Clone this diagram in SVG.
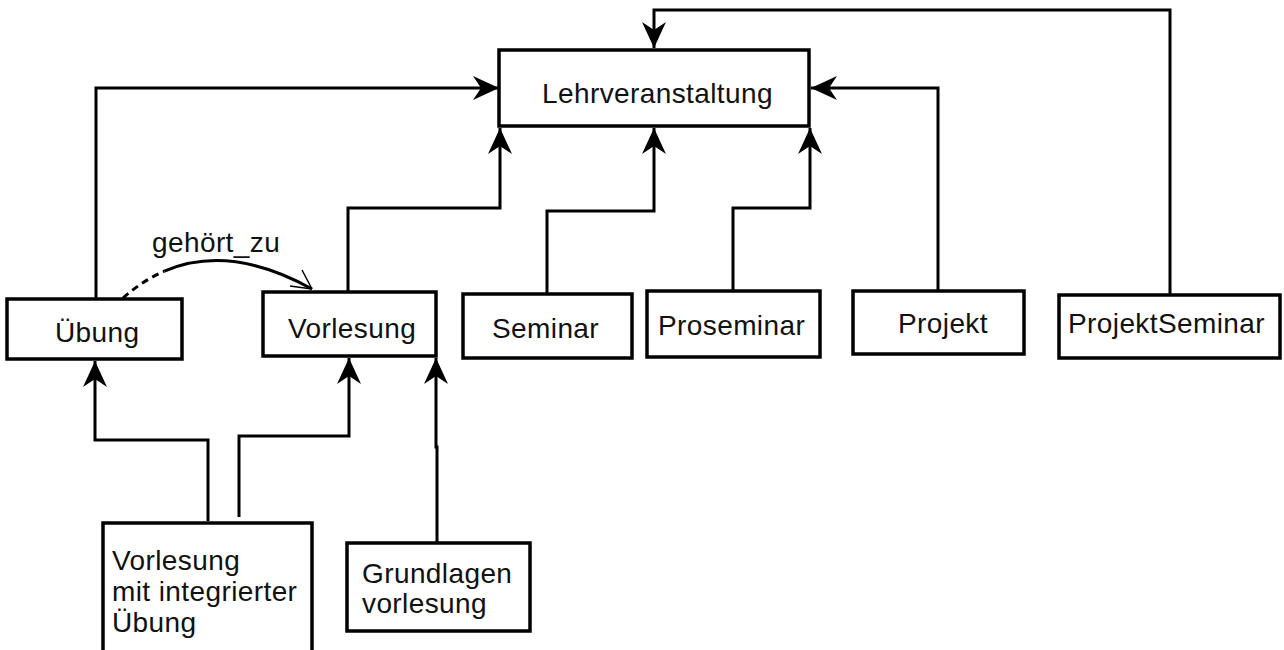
<svg xmlns="http://www.w3.org/2000/svg" width="1284" height="650" viewBox="0 0 1284 650">
<style>
.box{fill:#fff;stroke:#000;stroke-width:3.5}
.lbl{font-family:"Liberation Sans",Arial,sans-serif;font-size:28px;fill:#111;letter-spacing:0.4px}
.con{fill:none;stroke:#000;stroke-width:3;marker-end:url(#arr)}
</style>
<defs>
<marker id="arr" markerUnits="userSpaceOnUse" markerWidth="30" markerHeight="30" viewBox="-27 -14 30 28" refX="0" refY="0" orient="auto">
<path d="M0,0 L-26,-12 L-18,0 L-26,12 Z" fill="#000"/>
</marker>
</defs>
<rect width="1284" height="650" fill="#fff"/>
<g id="connectors">
<path class="con" d="M96,299 V88 H499"/>
<path class="con" d="M348,292 V208 H500 V128"/>
<path class="con" d="M547,294 V211 H654 V128"/>
<path class="con" d="M733,291 V208 H810 V128"/>
<path class="con" d="M938,291 V88 H811"/>
<path class="con" d="M1170,295 V10 H654 V48"/>
<path class="con" d="M208,521 V440 H95 V361"/>
<path class="con" d="M239,517 V436 H349 V358"/>
<path class="con" d="M437,543 V447 L436,447 V358"/>
<g id="gehoert_zu">
<path d="M123,298 Q142.75,280.5 164.4,271.2" fill="none" stroke="#000" stroke-width="3" stroke-dasharray="7,5"/>
<path d="M164.4,271.2 Q229.5,243.25 312,289" fill="none" stroke="#000" stroke-width="3"/>
<path d="M290,286 L312,289 M302,270 L312,289" fill="none" stroke="#000" stroke-width="1.5"/>
<text class="lbl" x="152" y="252">gehört_zu</text>
</g>
</g>
<g id="lehrveranstaltung"><rect class="box" x="499" y="50" width="310" height="76"/><text class="lbl" x="542" y="103">Lehrveranstaltung</text></g>
<g id="uebung"><rect class="box" x="7" y="299" width="175" height="60"/><text class="lbl" x="55" y="342">Übung</text></g>
<g id="vorlesung"><rect class="box" x="263" y="292" width="173" height="64"/><text class="lbl" x="288" y="338">Vorlesung</text></g>
<g id="seminar"><rect class="box" x="463" y="294" width="169" height="64"/><text class="lbl" x="492" y="338">Seminar</text></g>
<g id="proseminar"><rect class="box" x="647" y="291" width="173" height="66"/><text class="lbl" x="658" y="335">Proseminar</text></g>
<g id="projekt"><rect class="box" x="853" y="291" width="171" height="63"/><text class="lbl" x="898" y="333">Projekt</text></g>
<g id="projektseminar"><rect class="box" x="1059" y="295" width="221" height="63"/><text class="lbl" x="1068" y="333">ProjektSeminar</text></g>
<g id="vorlesung_mit_uebung"><rect class="box" x="103" y="523" width="209" height="140"/><text class="lbl" x="112" y="570">Vorlesung</text><text class="lbl" x="112" y="601">mit integrierter</text><text class="lbl" x="112" y="632">Übung</text></g>
<g id="grundlagenvorlesung"><rect class="box" x="347" y="543" width="183" height="88"/><text class="lbl" x="362" y="583">Grundlagen</text><text class="lbl" x="362" y="613">vorlesung</text></g>
</svg>
